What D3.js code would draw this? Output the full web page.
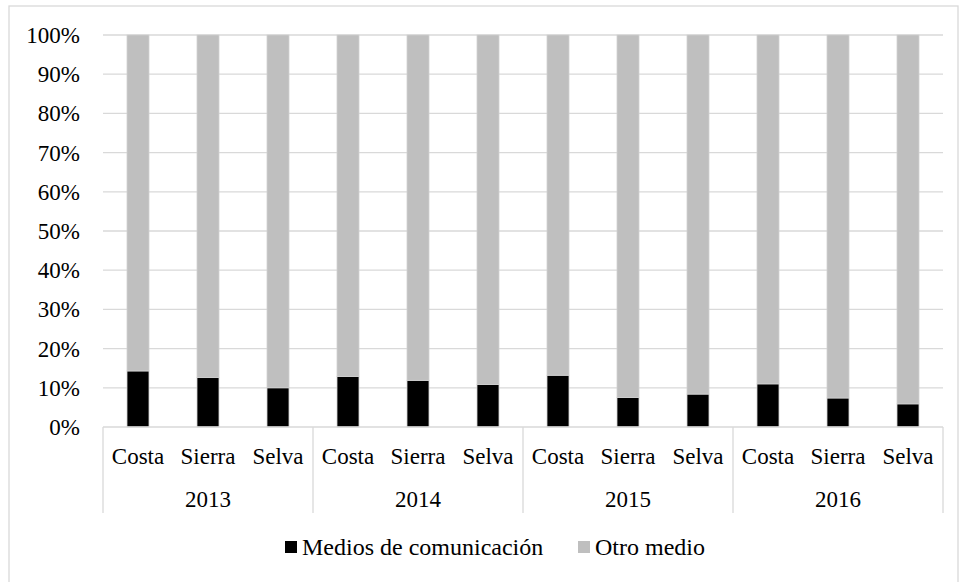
<!DOCTYPE html>
<html>
<head>
<meta charset="utf-8">
<script src="https://cdn.jsdelivr.net/npm/d3@7"></script>
<style>
  body { margin: 0; background: #fff; }
  text { font-family: "Liberation Serif", "Times New Roman", serif; fill: #000; }
</style>
</head>
<body>
<div id="visualization"></div>
<script>
// data
const years = ["2013", "2014", "2015", "2016"];
const regions = ["Costa", "Sierra", "Selva"];
const medios = [14.3, 12.6, 10.0, 12.9, 11.9, 10.85, 13.2, 7.5, 8.4, 11.0, 7.4, 5.9];
const seriesNames = ["Medios de comunicación", "Otro medio"];
const seriesColors = ["#000000", "#bfbfbf"];
const yTicks = [0, 10, 20, 30, 40, 50, 60, 70, 80, 90, 100];

function main(){
    let width = 961, height = 582;

    let svg = d3.select(document.getElementById('visualization'))
        .append('svg')
        .attr('width', width)
        .attr('height', height);

    // chart border
    svg.append('rect')
        .attr('x', 9).attr('y', 6)
        .attr('width', 949).attr('height', 590)
        .attr('fill', 'none')
        .attr('stroke', '#d9d9d9')
        .attr('stroke-width', 1.3);

    // one row per bar
    let rows = [];
    years.forEach((yr, i) => {
        regions.forEach((r, j) => {
            let v = medios[i * regions.length + j];
            rows.push({key: yr + "-" + r, year: yr, region: r, medios: v, otro: 100 - v});
        });
    });

    let left = 103, right = 943, top = 35, bottom = 427;

    let x = d3.scaleBand()
        .domain(rows.map(d => d.key))
        .range([left, right])
        .paddingInner(0.686)
        .paddingOuter(0.343);

    let y = d3.scaleLinear().domain([0, 100]).range([bottom, top]);

    // gridlines
    svg.append('g')
        .selectAll('line')
        .data(yTicks.filter(t => t > 0))
        .enter()
        .append('line')
            .attr('x1', left).attr('x2', right)
            .attr('y1', d => y(d)).attr('y2', d => y(d))
            .attr('stroke', '#d9d9d9')
            .attr('stroke-width', 1.3);

    // y tick labels
    svg.append('g')
        .selectAll('text')
        .data(yTicks)
        .enter()
        .append('text')
            .attr('x', 80)
            .attr('y', d => y(d))
            .attr('dy', '0.35em')
            .attr('text-anchor', 'end')
            .attr('font-size', '23px')
            .text(d => d + '%');

    // stacked bars
    let stack = d3.stack().keys(['medios', 'otro']);
    let layers = stack(rows);

    svg.append('g')
        .selectAll('g')
        .data(layers)
        .enter()
        .append('g')
            .attr('fill', (d, i) => seriesColors[i])
        .selectAll('rect')
        .data(d => d)
        .enter()
        .append('rect')
            .attr('x', d => x(d.data.key))
            .attr('y', d => y(d[1]))
            .attr('width', x.bandwidth())
            .attr('height', d => y(d[0]) - y(d[1]))
            .attr('stroke', '#d0d0d0')
            .attr('stroke-width', 0.8);

    // axis line
    svg.append('line')
        .attr('x1', left).attr('x2', right)
        .attr('y1', bottom).attr('y2', bottom)
        .attr('stroke', '#d9d9d9')
        .attr('stroke-width', 1.3);

    // group separators
    let groupW = (right - left) / years.length;
    let seps = d3.range(years.length + 1).map(i => left + i * groupW);
    svg.append('g')
        .selectAll('line')
        .data(seps)
        .enter()
        .append('line')
            .attr('x1', d => d).attr('x2', d => d)
            .attr('y1', bottom).attr('y2', 513)
            .attr('stroke', '#d9d9d9')
            .attr('stroke-width', 1.3);

    // region labels
    svg.append('g')
        .selectAll('text')
        .data(rows)
        .enter()
        .append('text')
            .attr('x', d => x(d.key) + x.bandwidth() / 2)
            .attr('y', 464)
            .attr('text-anchor', 'middle')
            .attr('font-size', '23px')
            .text(d => d.region);

    // year labels
    svg.append('g')
        .selectAll('text')
        .data(years)
        .enter()
        .append('text')
            .attr('x', (d, i) => left + (i + 0.5) * groupW)
            .attr('y', 507)
            .attr('text-anchor', 'middle')
            .attr('font-size', '23px')
            .text(d => d);

    // legend
    let legendX = [285, 578];
    let legend = svg.append('g')
        .selectAll('g')
        .data(seriesNames)
        .enter()
        .append('g')
            .attr('transform', (d, i) => `translate(${legendX[i]},541)`);

    legend.append('rect')
        .attr('width', 12).attr('height', 12)
        .attr('fill', (d, i) => seriesColors[i]);

    legend.append('text')
        .attr('x', 17)
        .attr('y', 14)
        .attr('font-size', '24px')
        .text(d => d);
}

window.onload = () => {
    main();
}
</script>
</body>
</html>
